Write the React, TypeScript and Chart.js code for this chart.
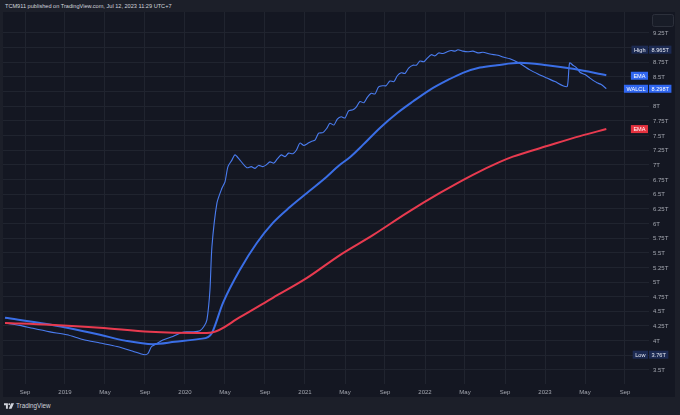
import React, { useEffect, useRef } from "react";
import { Chart, registerables } from "chart.js";

Chart.register(...registerables);

// ---- DATA ----
const walclDates = [
  "2018-07-01","2018-08-16","2018-09-25","2018-11-16","2019-01-07","2019-02-25","2019-04-16","2019-06-07",
  "2019-07-25","2019-08-16","2019-09-01","2019-09-10","2019-09-21","2019-10-07","2019-10-25","2019-11-25",
  "2019-12-22","2020-01-07","2020-01-25","2020-02-16","2020-02-28","2020-03-07","2020-03-16","2020-03-22",
  "2020-04-07","2020-04-22","2020-05-01","2020-05-10","2020-05-22","2020-06-01","2020-06-16","2020-07-07",
  "2020-07-20","2020-08-01","2020-08-12","2020-08-25","2020-09-05","2020-09-16","2020-09-28","2020-10-08",
  "2020-10-20","2020-11-01","2020-11-12","2020-11-25","2020-12-05","2020-12-16","2020-12-28","2021-01-08",
  "2021-01-20","2021-02-01","2021-02-12","2021-02-25","2021-03-06","2021-03-16","2021-03-28","2021-04-08",
  "2021-04-20","2021-05-01","2021-05-12","2021-05-25","2021-06-04","2021-06-16","2021-06-28","2021-07-08",
  "2021-07-20","2021-08-01","2021-08-12","2021-08-25","2021-09-04","2021-09-16","2021-09-28","2021-10-08",
  "2021-10-20","2021-11-01","2021-11-12","2021-11-25","2021-12-05","2021-12-16","2021-12-28","2022-01-08",
  "2022-01-20","2022-02-01","2022-02-12","2022-02-25","2022-03-08","2022-03-20","2022-04-01","2022-04-10",
  "2022-04-25","2022-05-10","2022-05-25","2022-06-10","2022-06-25","2022-07-16","2022-08-10","2022-08-25",
  "2022-09-16","2022-10-16","2022-11-16","2022-12-10","2023-01-07","2023-02-01","2023-02-25","2023-03-08",
  "2023-03-15","2023-03-25","2023-04-05","2023-04-16","2023-05-01","2023-05-16","2023-06-07","2023-06-20",
  "2023-07-05"
];
const walclValues = [
  4.30,4.26,4.21,4.15,4.10,4.02,3.96,3.90,
  3.82,3.78,3.76,3.78,3.90,3.95,4.01,4.07,
  4.14,4.15,4.15,4.17,4.24,4.36,4.86,5.60,
  6.35,6.60,6.71,6.97,7.08,7.17,7.08,6.95,
  6.97,6.94,6.99,6.97,7.00,7.05,7.03,7.10,
  7.17,7.14,7.20,7.19,7.25,7.37,7.33,7.36,
  7.40,7.42,7.54,7.55,7.62,7.71,7.68,7.78,
  7.82,7.80,7.92,7.94,7.98,8.08,8.06,8.15,
  8.22,8.21,8.33,8.35,8.35,8.43,8.42,8.52,
  8.57,8.56,8.65,8.70,8.70,8.77,8.76,8.82,
  8.88,8.86,8.91,8.90,8.93,8.95,8.94,8.965,
  8.94,8.93,8.94,8.91,8.92,8.89,8.87,8.84,
  8.81,8.73,8.62,8.55,8.48,8.42,8.35,8.34,
  8.74,8.70,8.66,8.58,8.54,8.48,8.40,8.37,
  8.30
];

const emaFastDates = [
  "2018-07-01","2018-11-01","2019-01-07","2019-04-16","2019-07-01","2019-09-25","2019-12-01","2020-02-16",
  "2020-03-10","2020-03-22","2020-04-25","2020-06-16","2020-08-07","2020-09-25","2020-11-16","2021-01-07",
  "2021-02-25","2021-04-16","2021-05-16","2021-06-25","2021-08-16","2021-10-07","2021-11-25","2022-01-16",
  "2022-03-07","2022-04-25","2022-06-16","2022-08-07","2022-10-16","2023-01-07","2023-03-25","2023-07-05"
];
const emaFastValues = [
  4.39,4.29,4.22,4.10,4.00,3.94,3.98,4.03,
  4.06,4.13,4.64,5.21,5.67,6.01,6.28,6.52,
  6.74,7.00,7.13,7.34,7.63,7.88,8.08,8.28,
  8.44,8.57,8.66,8.70,8.74,8.70,8.64,8.53
];

const emaSlowDates = [
  "2018-07-01","2018-11-16","2019-04-16","2019-09-16","2020-02-16","2020-03-22","2020-06-16","2020-09-25",
  "2021-01-07","2021-04-16","2021-07-25","2021-11-07","2022-02-16","2022-05-25","2022-08-16","2022-09-25",
  "2023-01-07","2023-04-16","2023-07-05"
];
const emaSlowValues = [
  4.30,4.27,4.22,4.15,4.13,4.14,4.40,4.73,
  5.07,5.46,5.80,6.18,6.52,6.83,7.05,7.14,
  7.32,7.49,7.61
];

// tick positions (months since Jan 2018) and price levels
const timeTicks = [8, 12, 16, 20, 24, 28, 32, 36, 40, 44, 48, 52, 56, 60, 64, 68];
const monthNames = ["Jan","Feb","Mar","Apr","May","Jun","Jul","Aug","Sep","Oct","Nov","Dec"];
const priceTicks = [3.5,3.75,4,4.25,4.5,4.75,5,5.25,5.5,5.75,6,6.25,6.5,6.75,7,7.25,7.5,7.75,8,8.25,8.5,8.75,9,9.25];
const hiddenPriceTicks = [3.75, 8.25, 9];

const highValue = 8.965;
const lowValue = 3.76;
const lastWalcl = 8.298;
const lastEmaFast = 8.52;
const lastEmaSlow = 7.61;

const BLUE = "#3a6ee6";
const RED = "#e83a4f";
const FONT = "'Liberation Sans', Arial, sans-serif";

const toMonth = (s: string) => {
  const [y, m, d] = s.split("-").map(Number);
  return (y - 2018) * 12 + (m - 1) + (d - 1) / 30.4;
};
const pts = (dates: string[], vals: number[]) => dates.map((d, i) => ({ x: toMonth(d), y: vals[i] }));

const fmtT = (v: number) => `${v}T`;

const tagsPlugin = {
  id: "tags",
  afterDraw(chart: any) {
    const { ctx, chartArea, scales } = chart;
    const y = scales.y;
    const R = chartArea.right;
    ctx.save();
    // price scale labels
    ctx.font = `6px ${FONT}`;
    ctx.textBaseline = "middle";
    ctx.textAlign = "left";
    ctx.fillStyle = "#a3a6af";
    priceTicks.forEach((v) => {
      if (hiddenPriceTicks.includes(v)) return;
      ctx.fillText(fmtT(v), R + 4, y.getPixelForValue(v) + 0.5);
    });

    ctx.font = `5.6px ${FONT}`;
    const h = 8;
    const nameTag = (text: string, v: number, bg: string, fg: string) => {
      const py = y.getPixelForValue(v);
      const w = ctx.measureText(text).width + 5;
      ctx.fillStyle = bg;
      ctx.fillRect(R - 1 - w, py - h / 2, w, h);
      ctx.fillStyle = fg;
      ctx.textAlign = "center";
      ctx.fillText(text, R - 1 - w / 2, py + 0.3);
    };
    const valTag = (text: string, v: number, bg: string, fg: string) => {
      const py = y.getPixelForValue(v);
      const w = ctx.measureText(text).width + 5;
      ctx.fillStyle = bg;
      ctx.fillRect(R, py - h / 2, w, h);
      ctx.fillStyle = fg;
      ctx.textAlign = "left";
      ctx.fillText(text, R + 2.5, py + 0.3);
    };
    const navy = "#1c2a52";
    nameTag("High", highValue, navy, "#e6e9f2");
    valTag(`${highValue}T`, highValue, navy, "#e6e9f2");
    nameTag("EMA", lastEmaFast, "#2f66f0", "#ffffff");
    nameTag("WALCL", lastWalcl, "#2f66f0", "#ffffff");
    valTag(`${lastWalcl}T`, lastWalcl, "#2f66f0", "#ffffff");
    nameTag("EMA", lastEmaSlow, "#e5323f", "#ffffff");
    nameTag("Low", lowValue, navy, "#e6e9f2");
    valTag(`${lowValue}T`, lowValue, navy, "#e6e9f2");
    // small scale button in the corner
    ctx.fillStyle = "#181c27";
    ctx.strokeStyle = "#2c303b";
    ctx.lineWidth = 1;
    ctx.beginPath();
    (ctx as any).roundRect(R + 3.5, 2.5, 21, 12, 2);
    ctx.fill();
    ctx.stroke();
    ctx.restore();
  },
};

export default function App() {
  const ref = useRef<HTMLCanvasElement | null>(null);
  useEffect(() => {
    if (!ref.current) return;
    const chart = new Chart(ref.current, {
      type: "line",
      data: {
        datasets: [
          {
            label: "EMA slow",
            data: pts(emaSlowDates, emaSlowValues),
            borderColor: RED,
            borderWidth: 2,
            pointRadius: 0,
            cubicInterpolationMode: "monotone",
          },
          {
            label: "EMA fast",
            data: pts(emaFastDates, emaFastValues),
            borderColor: BLUE,
            borderWidth: 2,
            pointRadius: 0,
            cubicInterpolationMode: "monotone",
          },
          {
            label: "WALCL",
            data: pts(walclDates, walclValues),
            borderColor: "#4a7cf0",
            borderWidth: 1.1,
            pointRadius: 0,
            tension: 0.25,
          },
        ],
      },
      options: {
        animation: false,
        responsive: false,
        maintainAspectRatio: false,
        layout: { padding: 0 },
        plugins: { legend: { display: false }, tooltip: { enabled: false } },
        scales: {
          x: {
            type: "linear",
            min: 5.8,
            max: 70.4,
            grid: { color: "#20242f", drawTicks: false, lineWidth: 1 },
            border: { display: false },
            afterBuildTicks: (s: any) => {
              s.ticks = timeTicks.map((v) => ({ value: v }));
            },
            afterFit: (s: any) => {
              s.height = 13;
            },
            ticks: {
              autoSkip: false,
              maxRotation: 0,
              padding: 5,
              color: "#a3a6af",
              font: { size: 6, family: FONT },
              callback: (v: any) => {
                const m = Math.round(Number(v));
                return m % 12 === 0 ? String(2018 + m / 12) : monthNames[m % 12];
              },
            },
          },
          y: {
            type: "linear",
            position: "right",
            min: 3.26,
            max: 9.608,
            grid: { color: "#20242f", drawTicks: false, lineWidth: 1 },
            border: { display: false },
            afterBuildTicks: (s: any) => {
              s.ticks = priceTicks.map((v) => ({ value: v }));
            },
            afterFit: (s: any) => {
              s.width = 26;
            },
            ticks: { display: false },
          },
        },
      },
      plugins: [tagsPlugin],
    } as any);
    return () => chart.destroy();
  }, []);

  return (
    <div
      style={{
        position: "fixed",
        left: 0,
        top: 0,
        width: 680,
        height: 415,
        background: "#1c1f29",
        overflow: "hidden",
        fontFamily: FONT,
      }}
    >
      <div
        style={{
          position: "absolute",
          left: 5,
          top: 2,
          fontSize: 5.6,
          color: "#d1d4dc",
          whiteSpace: "nowrap",
          lineHeight: "8px",
        }}
      >
        TCM911 published on TradingView.com, Jul 12, 2023 11:29 UTC+7
      </div>
      <canvas
        ref={ref}
        width={672}
        height={385}
        style={{ position: "absolute", left: 3, top: 12, width: 672, height: 385, background: "#141722" }}
      />
      <div
        style={{
          position: "absolute",
          left: 4,
          top: 401,
          display: "flex",
          alignItems: "center",
          gap: 2,
          color: "#d1d4dc",
          fontSize: 6.3,
          lineHeight: "9px",
          whiteSpace: "nowrap",
        }}
      >
        <svg width="10" height="6" viewBox="0 0 36 20">
          <path d="M0 0 H14 V20 H7 V7 H0 Z" fill="#d1d4dc" />
          <circle cx="19" cy="4" r="3.5" fill="#d1d4dc" />
          <path d="M26 0 H36 L27 20 H17 Z" fill="#d1d4dc" />
        </svg>
        <span>TradingView</span>
      </div>
    </div>
  );
}
